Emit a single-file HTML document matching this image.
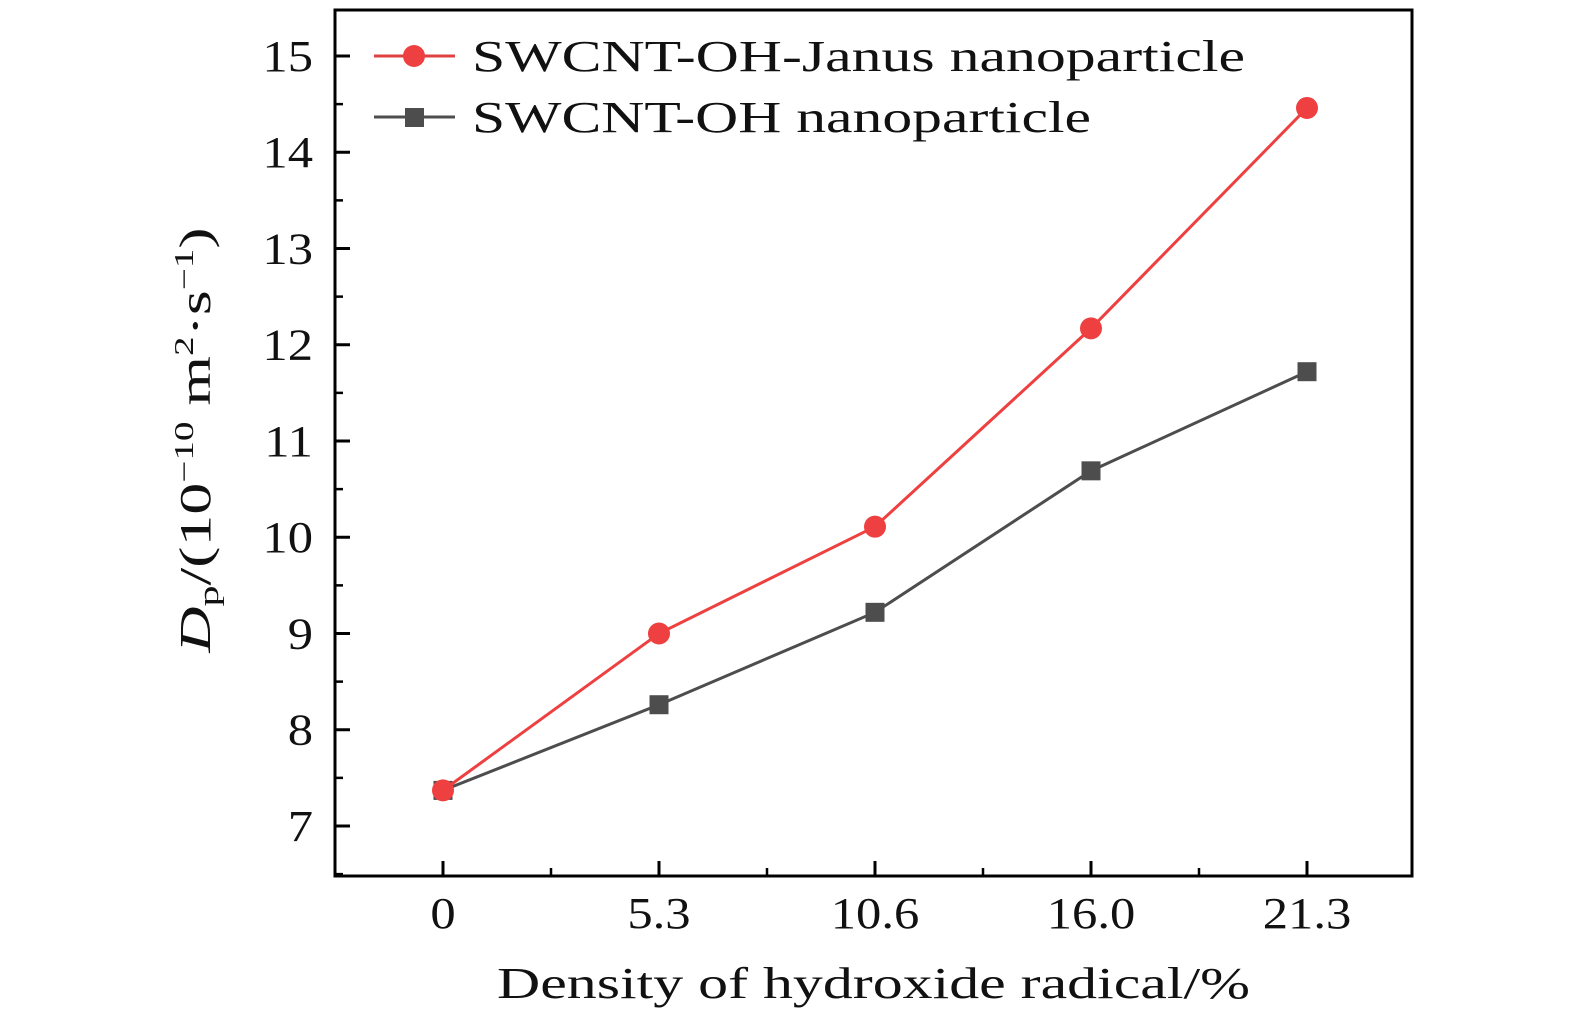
<!DOCTYPE html>
<html><head><meta charset="utf-8"><style>
html,body{margin:0;padding:0;background:#fff}
svg{display:block}
svg text{font-family:"Liberation Serif",serif;fill:#111}
</style></head><body>
<svg id="chart" width="1575" height="1024" viewBox="0 0 1575 1024" xmlns="http://www.w3.org/2000/svg">
<g id="axes"></g>
<g id="series"></g>
<g>
  <line x1="374" y1="56" x2="455" y2="56" stroke="#e0403f" stroke-width="3"/>
  <circle cx="414" cy="56" r="11" fill="#ee4040"/>
  <text x="472" y="71" font-size="44" textLength="773" lengthAdjust="spacingAndGlyphs">SWCNT-OH-Janus nanoparticle</text>
  <line x1="374" y1="117" x2="455" y2="117" stroke="#4d4d4d" stroke-width="3"/>
  <rect x="405" y="108" width="19" height="19" fill="#4d4d4d"/>
  <text x="472" y="132" font-size="44" textLength="619" lengthAdjust="spacingAndGlyphs">SWCNT-OH nanoparticle</text>
</g>
<text x="497" y="998" font-size="44" textLength="753" lengthAdjust="spacingAndGlyphs">Density of hydroxide radical/%</text>
<text transform="translate(210,440) rotate(-90) scale(1.45,1)" font-size="44" text-anchor="middle"><tspan font-style="italic">D</tspan><tspan font-size="29" dy="8">p</tspan><tspan dy="-8">/(10</tspan><tspan font-size="27" dy="-17">−10</tspan><tspan dy="17"> m</tspan><tspan font-size="27" dy="-17">2</tspan><tspan dy="17">·s</tspan><tspan font-size="27" dy="-17">−1</tspan><tspan dy="17">)</tspan></text>
</svg>
<script>
const categories = ["0","5.3","10.6","16.0","21.3"];
const janusValues = [7.37, 9.0, 10.11, 12.17, 14.46];
const ohValues = [7.37, 8.26, 9.22, 10.69, 11.72];
const yTicks = [7,8,9,10,11,12,13,14,15];

const NS="http://www.w3.org/2000/svg";
const L=335,R=1412,T=10,B=876;
function xPos(i){return 443+i*216;}
function yPos(v){return 826-(v-7)*96.25;}
function mk(tag,attrs,parent){const e=document.createElementNS(NS,tag);for(const k in attrs)e.setAttribute(k,attrs[k]);parent.appendChild(e);return e;}
const axes=document.getElementById('axes');
const frame=mk('rect',{x:L,y:T,width:R-L,height:B-T,fill:'none',stroke:'#000','stroke-width':3},axes);


yTicks.forEach(v=>{
  const y=yPos(v);
  mk('line',{x1:L,x2:L+15,y1:y,y2:y,stroke:'#000','stroke-width':3},axes);
  const t=mk('text',{x:L-22,y:y+15,'font-size':44,'text-anchor':'end',transform:'translate('+(L-22)+',0) scale(1.15,1) translate('+(-(L-22))+',0)'},axes);
  t.textContent=v;
  
  
  if(v<15){const ym=yPos(v+0.5);mk('line',{x1:L,x2:L+8,y1:ym,y2:ym,stroke:'#000','stroke-width':2.5},axes);}
});
const y65=yPos(6.5);
mk('line',{x1:L,x2:L+8,y1:y65,y2:y65,stroke:'#000','stroke-width':2.5},axes);
categories.forEach((c,i)=>{
  const x=xPos(i);
  mk('line',{x1:x,x2:x,y1:B,y2:B-15,stroke:'#000','stroke-width':3},axes);
  const t=mk('text',{x:x,y:B+52,'font-size':44,'text-anchor':'middle',transform:'translate('+x+',0) scale(1.15,1) translate('+(-x)+',0)'},axes);
  t.textContent=c;
  
  
  if(i<categories.length-1){const xm=x+108;mk('line',{x1:xm,x2:xm,y1:B,y2:B-8,stroke:'#000','stroke-width':2.5},axes);}
});
const sg=document.getElementById('series');
function drawSeries(vals,color,shape,name){
  const pts=vals.map((v,i)=>xPos(i)+','+yPos(v)).join(' ');
  const pl=mk('polyline',{points:pts,fill:'none',stroke:color,'stroke-width':3},sg);
  
  
  vals.forEach((v,i)=>{
    let m;
    if(shape==='circle') m=mk('circle',{cx:xPos(i),cy:yPos(v),r:11,fill:color},sg);
    else m=mk('rect',{x:xPos(i)-9.5,y:yPos(v)-9.5,width:19,height:19,fill:color},sg);
    
    
  });
}
drawSeries(ohValues,'#4d4d4d','square','oh');
drawSeries(janusValues,'#ee4040','circle','janus');
</script>
</body></html>
